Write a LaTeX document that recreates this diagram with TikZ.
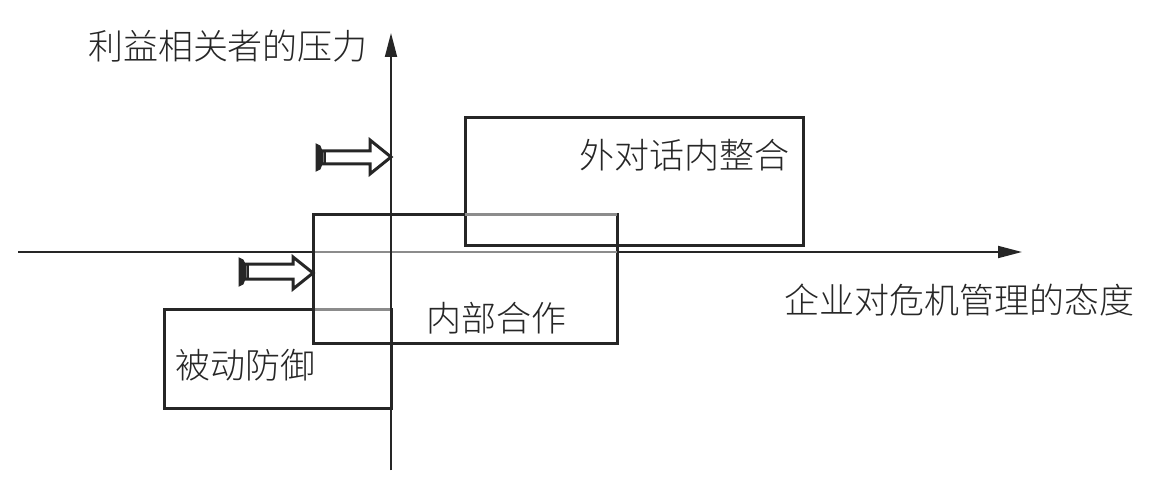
\documentclass[tikz,border=0pt]{standalone}
\usepackage{fontspec}
\setmainfont{Noto Sans CJK SC Light}
\usetikzlibrary{arrows.meta}
\begin{document}
\begin{tikzpicture}[x=1pt,y=-1pt,
  boxline/.style={draw=none,inner sep=0pt,outer sep=0pt},
  edge/.style={draw=black!85,line width=3pt},
  axisline/.style={draw=black!85,line width=1.8pt,-{Triangle[length=24pt,width=12pt]}},
  lbl/.style={font=\fontsize{35}{35}\selectfont,inner sep=0pt,text=black!85},
  hollow/.style={draw=black!85,line width=3pt,fill=white,line join=miter},
  graysegs/.style={draw=black!45,line width=3pt}]
\useasboundingbox (0,0) rectangle (1168,500);
% boxes (named placeholders)
\node[boxline,minimum width=338pt,minimum height=127pt] (b1) at (634,181.5) {};
\node[boxline,minimum width=304pt,minimum height=129pt] (b2) at (465,278.5) {};
\node[boxline,minimum width=227pt,minimum height=99pt] (b3) at (277.5,358.5) {};
\draw[edge] (b1.south west) rectangle (b1.north east);
\draw[edge] (b2.south west) rectangle (b2.north east);
\draw[edge] (b3.south west) rectangle (b3.north east);
% axes
\coordinate (xs) at (18,252);
\coordinate (xe) at (1022,252);
\coordinate (ys) at (391,470);
\coordinate (ye) at (391,33);
\draw[axisline] (xs) -- (xe);
\draw[axisline] (ys) -- (ye);
% gray overlaps
\draw[graysegs,line width=1.8pt] (b2.west |- xs) -- (b2.east |- xs);
\draw[graysegs] (b1.west |- b2.north) -- (b2.north east);
\draw[graysegs] (b3.north -| b2.west) -- (b3.north east);
% redraw black edges over gray
\draw[edge] (b1.south west) -- (b1.south east);
\draw[edge] (b2.north west) -- (b2.south west);
\draw[draw=black!85,line width=1.8pt] (ys) -- (391,60);
% labels
\node[lbl] (t1) at (684,155) {外对话内整合};
\node[lbl] (t2) at (496,318) {内部合作};
\node[lbl] (t3) at (245,365) {被动防御};
\node[lbl] (ty) at (228,46) {利益相关者的压力};
\node[lbl] (tx) at (959,300) {企业对危机管理的态度};
% hollow arrows
\draw[hollow] (322,151) -- (370,151) -- (370,140) -- (391,157) -- (370,174) -- (370,164) -- (322,164) -- cycle;
\filldraw[draw=black!85,fill=black!85,line width=1pt] (316,144) -- (320,146) -- (322,151) -- (322,164) -- (320,169) -- (316,171) -- cycle;
\draw[black!85,line width=1.2pt] (325,151) -- (325,164);
\draw[hollow] (245,264) -- (293,264) -- (293,257) -- (313,273) -- (293,289) -- (293,279) -- (245,279) -- cycle;
\filldraw[draw=black!85,fill=black!85,line width=1pt] (239,258) -- (243,260) -- (245,264) -- (245,279) -- (243,284) -- (239,286) -- cycle;
\draw[black!85,line width=1.2pt] (248,264) -- (248,279);
\end{tikzpicture}
\end{document}
